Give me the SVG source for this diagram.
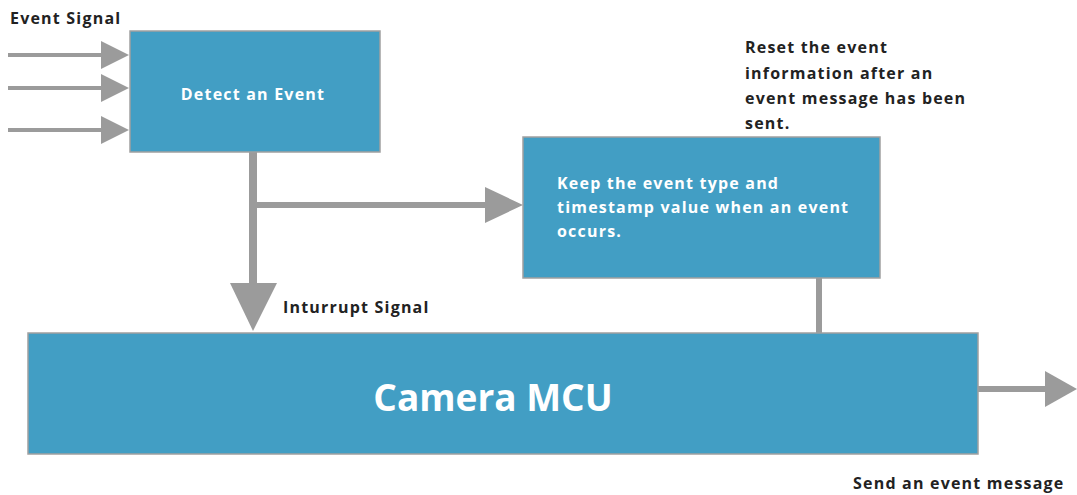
<svg xmlns="http://www.w3.org/2000/svg" width="1077" height="495" viewBox="0 0 1077 495">
  <style>
    .box { fill: #429ec4; stroke: #a0a0a0; stroke-width: 1.5; }
    .wire { stroke: #9b9b9b; fill: none; }
    .head { fill: #9b9b9b; }
    .label { font-family: "Open Sans", "Liberation Sans", sans-serif; font-weight: 700; font-size: 16px; letter-spacing: 1.2px; fill: #222; }
    .inner { font-family: "Open Sans", "Liberation Sans", sans-serif; font-weight: 700; font-size: 16px; letter-spacing: 1.2px; fill: #ffffff; }
    .big { font-family: "Open Sans", "Liberation Sans", sans-serif; font-weight: 700; font-size: 37px; fill: #ffffff; }
  </style>
  <rect width="1077" height="495" fill="#ffffff"/>

  <!-- connectors -->
  <g id="connectors">
    <!-- three event signal inputs -->
    <line class="wire" x1="8" y1="55" x2="104" y2="55" stroke-width="4"/>
    <polygon class="head" points="101,41 129,55 101,69"/>
    <line class="wire" x1="8" y1="88" x2="104" y2="88" stroke-width="4"/>
    <polygon class="head" points="101,74 129,88 101,102"/>
    <line class="wire" x1="8" y1="130" x2="104" y2="130" stroke-width="4"/>
    <polygon class="head" points="101,116 129,130 101,144"/>
    <!-- interrupt trunk down to the MCU -->
    <line class="wire" x1="253" y1="152" x2="253" y2="286" stroke-width="8"/>
    <polygon class="head" points="230,283 277,283 253,331"/>
    <!-- branch to the event store -->
    <line class="wire" x1="256" y1="205" x2="488" y2="205" stroke-width="6"/>
    <polygon class="head" points="485,187 523,205 485,223"/>
    <!-- reset link from event store to MCU -->
    <line class="wire" x1="819" y1="278" x2="819" y2="333" stroke-width="6"/>
    <!-- outgoing event message -->
    <line class="wire" x1="978" y1="389" x2="1048" y2="389" stroke-width="6"/>
    <polygon class="head" points="1045,371 1077,389 1045,407"/>
  </g>

  <g id="detect-event">
    <rect class="box" x="130" y="31" width="250" height="121"/>
    <text class="inner" x="253" y="100" text-anchor="middle">Detect an Event</text>
  </g>

  <g id="event-store">
    <rect class="box" x="523" y="137" width="357" height="141"/>
    <text class="inner" x="557" y="189">Keep the event type and</text>
    <text class="inner" x="557" y="213">timestamp value when an event</text>
    <text class="inner" x="557" y="237">occurs.</text>
  </g>

  <g id="camera-mcu">
    <rect class="box" x="28" y="333" width="950" height="121"/>
    <text class="big" x="493" y="411" text-anchor="middle">Camera MCU</text>
  </g>

  <g id="labels">
    <text class="label" x="10" y="24">Event Signal</text>
    <text class="label" x="745" y="53">Reset the event</text>
    <text class="label" x="745" y="79">information after an</text>
    <text class="label" x="745" y="104">event message has been</text>
    <text class="label" x="745" y="129">sent.</text>
    <text class="label" x="283" y="313">Inturrupt Signal</text>
    <text class="label" x="853" y="489">Send an event message</text>
  </g>
</svg>
